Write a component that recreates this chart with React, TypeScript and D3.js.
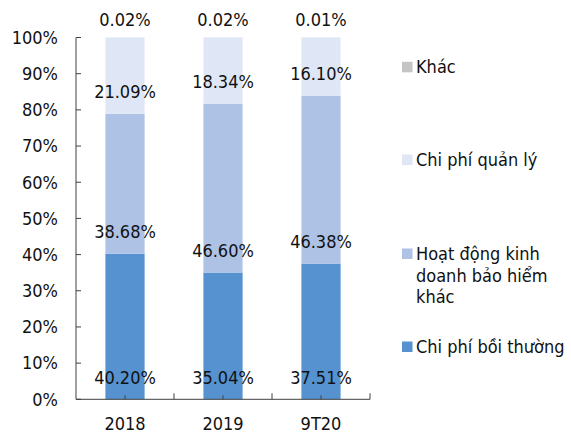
import React from "react";
import * as d3 from "d3";

const categories = ["2018", "2019", "9T20"];
const boiThuong = [40.2, 35.04, 37.51];
const hoatDong = [38.68, 46.6, 46.38];
const quanLy = [21.09, 18.34, 16.1];
const khac = [0.02, 0.02, 0.01];
const yTicks = [0, 10, 20, 30, 40, 50, 60, 70, 80, 90, 100];

const seriesColors = ["#5592cf", "#adc2e5", "#dfe6f6", "#c4c4c4"];
const legendLines = [["Chi phí bồi thường"], ["Hoạt động kinh", "doanh bảo hiểm", "khác"], ["Chi phí quản lý"], ["Khác"]];

const W = 571;
const H = 434;
const left = 76;
const right = 370;
const top = 37.5;
const bottom = 399.3;
const FONT = "'DejaVu Sans Condensed', 'DejaVu Sans', sans-serif";
const FS = 18;

export default function App() {
  const x = d3.scaleBand<string>().domain(categories).range([left, right]).paddingInner(0.6).paddingOuter(0.3);
  const y = d3.scaleLinear().domain([0, 100]).range([bottom, top]);
  const step = x.step();
  const rows = categories.map((c, i) => ({ cat: c, s0: boiThuong[i], s1: hoatDong[i], s2: quanLy[i], s3: khac[i] }));
  const stack = d3.stack<any>().keys(["s0", "s1", "s2", "s3"]);
  const stacked = stack(rows);

  const legendY = [353, 260, 166, 73.3];

  return (
    <svg width={W} height={H} style={{ position: "absolute", left: 0, top: 0, fontFamily: FONT, fontStretch: "condensed" }}>
      <rect width={W} height={H} fill="#fff" />
      {stacked.map((layer, li) => (
        <g key={li}>
          {layer.map((d, i) => (
            <rect
              key={i}
              x={x(categories[i])}
              width={x.bandwidth()}
              y={y(d[1])}
              height={Math.max(0, y(d[0]) - y(d[1]))}
              fill={seriesColors[li]}
            />
          ))}
        </g>
      ))}
      {/* y axis */}
      <line x1={left} x2={left} y1={top} y2={bottom} stroke="#404040" strokeWidth={1} />
      {yTicks.map((t) => (
        <g key={t}>
          <line x1={left} x2={left + 5} y1={y(t)} y2={y(t)} stroke="#404040" />
          <text x={58} y={y(t)} dy="0.35em" textAnchor="end" fontSize={FS} fill="#111">
            {t}%
          </text>
        </g>
      ))}
      {/* x axis */}
      <line x1={left} x2={right} y1={bottom} y2={bottom} stroke="#404040" strokeWidth={1} />
      {categories.map((c) => {
        const cx = (x(c) as number) + x.bandwidth() / 2;
        const bx = cx + step / 2;
        return (
          <g key={c}>
            <line x1={cx} x2={cx} y1={bottom} y2={bottom - 4} stroke="#404040" />
            <line x1={bx} x2={bx} y1={bottom} y2={bottom - 6} stroke="#404040" />
            <text x={cx} y={430} textAnchor="middle" fontSize={FS} fill="#111">
              {c}
            </text>
          </g>
        );
      })}
      {/* data labels */}
      {stacked.map((layer, li) => (
        <g key={"l" + li}>
          {layer.map((d, i) => {
            const cx = (x(categories[i]) as number) + x.bandwidth() / 2;
            const off = li === 3 ? 11.5 : 15.5;
            const v = [boiThuong, hoatDong, quanLy, khac][li][i];
            return (
              <text key={i} x={cx} y={y(d[0]) - off} textAnchor="middle" fontSize={FS} fill="#111">
                {v.toFixed(2)}%
              </text>
            );
          })}
        </g>
      ))}
      {/* legend */}
      {legendLines.map((lines, li) => (
        <g key={"lg" + li}>
          <rect x={402} y={legendY[li] - 11.5} width={10.5} height={10.5} fill={seriesColors[li]} />
          {lines.map((ln, k) => (
            <text key={k} x={416} y={legendY[li] + k * 21.7} fontSize={FS} fill="#111">
              {ln}
            </text>
          ))}
        </g>
      ))}
    </svg>
  );
}
